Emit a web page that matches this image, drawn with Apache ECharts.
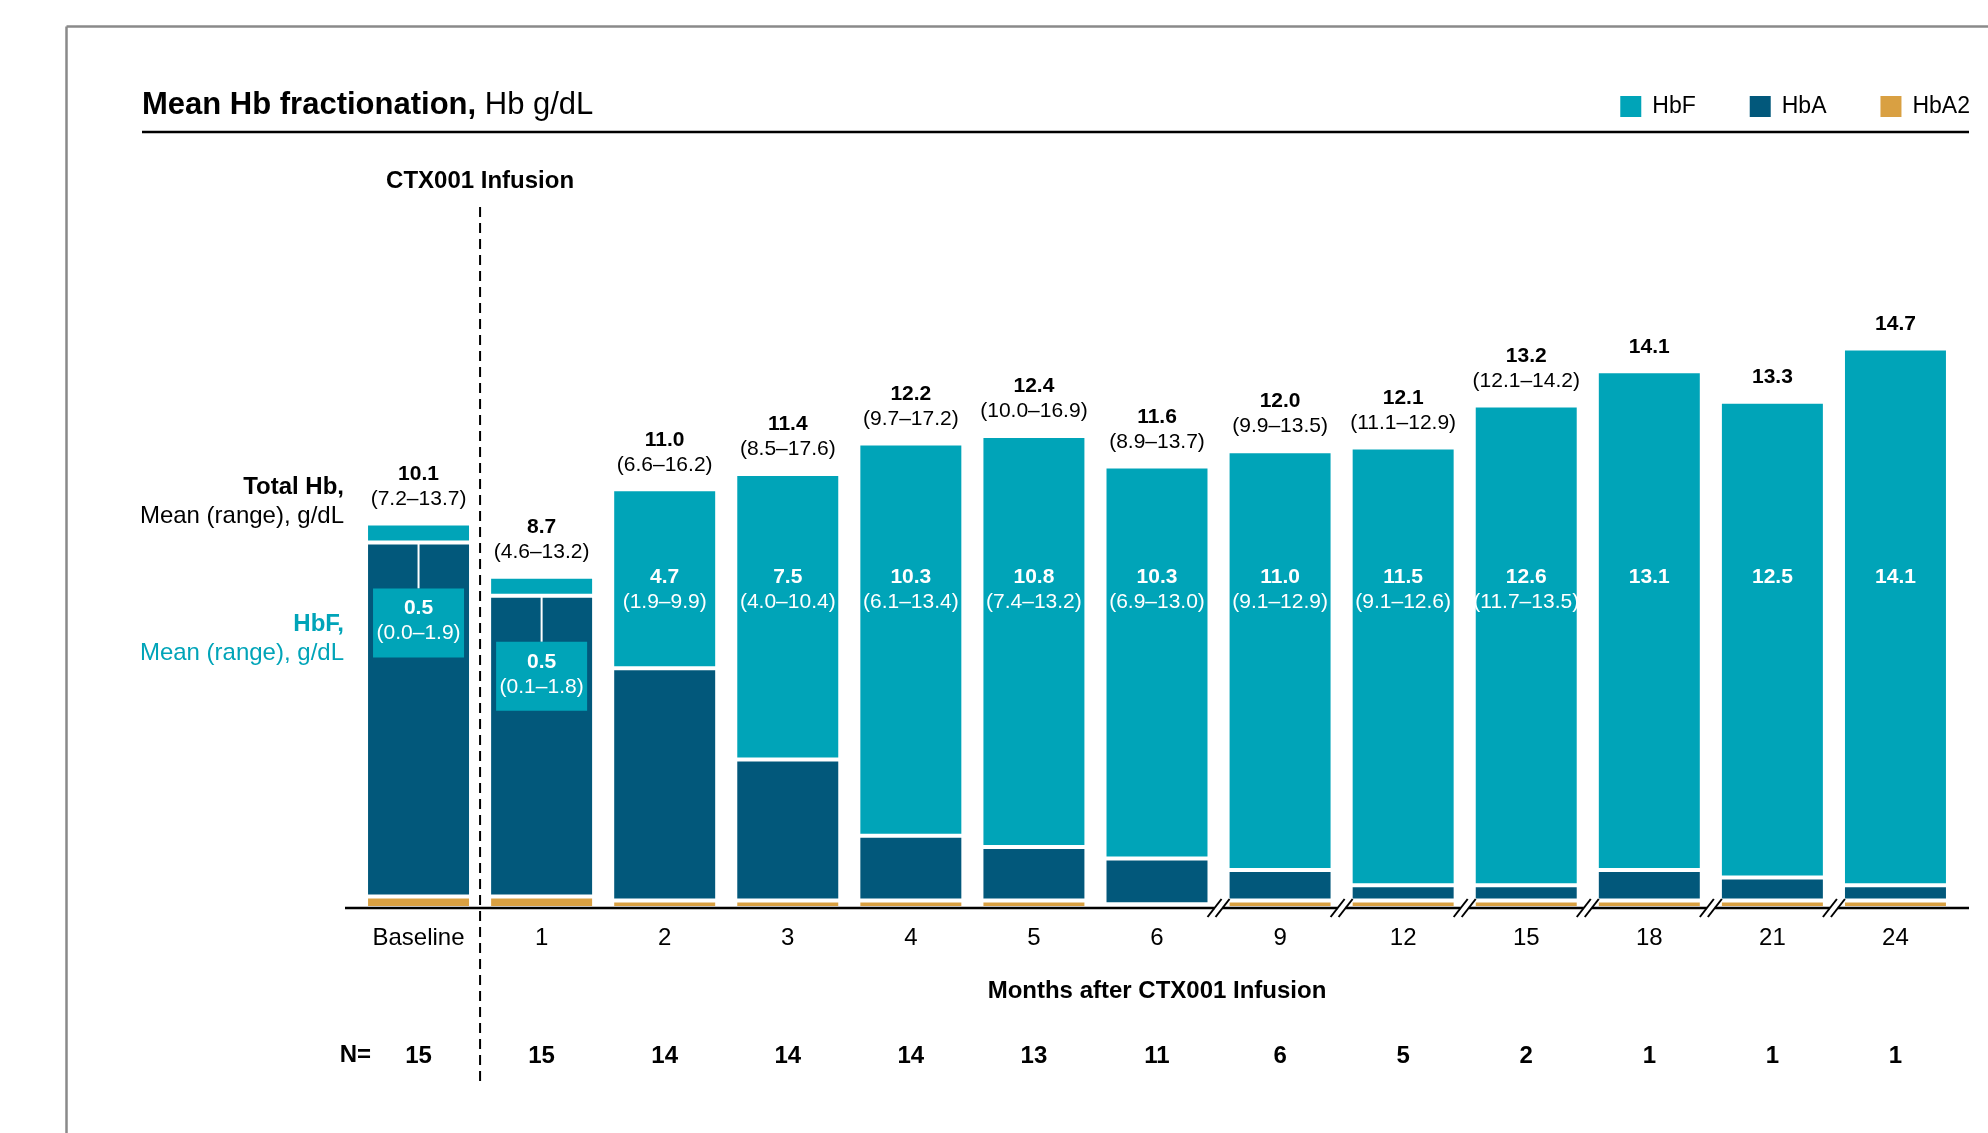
<!DOCTYPE html>
<html>
<head>
<meta charset="utf-8">
<title>Mean Hb fractionation</title>
<style>
  html, body { margin: 0; padding: 0; background: #fff; }
  #chart { width: 1988px; height: 1133px; }
</style>
<script src="https://cdn.jsdelivr.net/npm/echarts@6/dist/echarts.min.js"></script>
</head>
<body>
<div id="chart"></div>
<script>
// Visits: baseline, then months after infusion
const categories = ['Baseline', '1', '2', '3', '4', '5', '6', '9', '12', '15', '18', '21', '24'];
// Total Hb, mean and range (g/dL)
const totalHb = [10.1, 8.7, 11.0, 11.4, 12.2, 12.4, 11.6, 12.0, 12.1, 13.2, 14.1, 13.3, 14.7];
const totalRange = ['7.2–13.7', '4.6–13.2', '6.6–16.2', '8.5–17.6', '9.7–17.2', '10.0–16.9', '8.9–13.7',
  '9.9–13.5', '11.1–12.9', '12.1–14.2', '', '', ''];
// Hb fractions (g/dL)
const hbF = [0.5, 0.5, 4.7, 7.5, 10.3, 10.8, 10.3, 11.0, 11.5, 12.6, 13.1, 12.5, 14.1];
const hbFRange = ['0.0–1.9', '0.1–1.8', '1.9–9.9', '4.0–10.4', '6.1–13.4', '7.4–13.2', '6.9–13.0',
  '9.1–12.9', '9.1–12.6', '11.7–13.5', '', '', ''];
const hbA = [9.3, 7.9, 6.1, 3.7, 1.7, 1.4, 1.2, 0.8, 0.4, 0.4, 0.8, 0.6, 0.4];
const hbA2 = [0.3, 0.3, 0.2, 0.2, 0.2, 0.2, 0.1, 0.2, 0.2, 0.2, 0.2, 0.2, 0.2];
// Patients contributing at each visit
const nPatients = [15, 15, 14, 14, 14, 13, 11, 6, 5, 2, 1, 1, 1];
// The time axis is broken after each of these visits
const breakAfter = ['6', '9', '12', '15', '18', '21'];

const TEAL = '#00A4B8';
const NAVY = '#02587B';
const GOLD = '#D9A042';
const FONT = '"Liberation Sans", Arial, Helvetica, sans-serif';

const GRID = { left: 357, top: 337, width: 1600, height: 571 };
const AXIS_Y = GRID.top + GRID.height;
const INNER_Y = 577;          // row of the HbF values written inside the bars

const chart = echarts.init(document.getElementById('chart'), null, { renderer: 'canvas' });

function whiteText(x, y, text, bold) {
  return {
    type: 'text',
    style: {
      x: x, y: y, text: text, fill: '#fff',
      font: (bold ? 'bold ' : '') + '21px ' + FONT,
      align: 'center', verticalAlign: 'middle'
    }
  };
}

function renderHbFLabel(params, api) {
  const i = params.dataIndex;
  const x = api.coord([i, 0])[0];
  const value = hbF[i].toFixed(1);
  const range = hbFRange[i];
  const children = [];
  if (hbF[i] < 2) {
    // thin HbF segment: its value goes in a box below, joined by a leader line
    const segBottom = api.coord([i, hbA2[i] + hbA[i]])[1];
    const boxTop = segBottom + 46;
    children.push({
      type: 'line',
      shape: { x1: x, y1: segBottom, x2: x, y2: boxTop },
      style: { stroke: '#fff', lineWidth: 2 }
    });
    children.push({
      type: 'rect',
      shape: { x: x - 45.5, y: boxTop, width: 91, height: 69 },
      style: { fill: TEAL }
    });
    children.push(whiteText(x, boxTop + 20, value, true));
    children.push(whiteText(x, boxTop + 45, '(' + range + ')', false));
  } else {
    children.push(whiteText(x, INNER_Y, value, true));
    if (range) children.push(whiteText(x, INNER_Y + 25, '(' + range + ')', false));
  }
  return { type: 'group', children: children };
}

const barCommon = {
  type: 'bar',
  stack: 'hb',
  barCategoryGap: '14.7%',
  itemStyle: { borderColor: '#fff', borderWidth: 2 },
  emphasis: { disabled: true },
  animation: false
};

chart.setOption({
  animation: false,
  backgroundColor: '#fff',
  textStyle: { fontFamily: FONT },
  title: {
    left: 142,
    top: 90,
    padding: 0,
    text: '{b|Mean Hb fractionation,}{r| Hb g/dL}',
    textStyle: {
      rich: {
        b: { fontFamily: FONT, fontSize: 31, fontWeight: 'bold', color: '#000', lineHeight: 31 },
        r: { fontFamily: FONT, fontSize: 31, fontWeight: 'normal', color: '#000', lineHeight: 31 }
      }
    }
  },
  legend: {
    data: ['HbF', 'HbA', 'HbA2'],
    right: 18,
    top: 94,
    padding: 0,
    icon: 'rect',
    itemWidth: 23,
    itemHeight: 23,
    itemGap: 52,
    selectedMode: false,
    textStyle: { fontFamily: FONT, fontSize: 23, color: '#000', lineHeight: 23, padding: [0, 0, 0, 5] }
  },
  grid: GRID,
  xAxis: [
    {
      type: 'category',
      data: categories,
      axisLine: { show: false, onZero: false },
      axisTick: { show: false },
      axisLabel: { fontFamily: FONT, fontSize: 24, color: '#000', margin: 18 },
      name: 'Months after CTX001 Infusion',
      nameLocation: 'middle',
      nameGap: 71,
      nameTextStyle: { fontFamily: FONT, fontSize: 24, fontWeight: 'bold', color: '#000' }
    },
    {
      type: 'category',
      position: 'bottom',
      offset: 0,
      data: nPatients.map(String),
      axisLine: { show: false, onZero: false },
      axisTick: { show: false },
      axisLabel: { fontFamily: FONT, fontSize: 24, fontWeight: 'bold', color: '#000', margin: 136 }
    }
  ],
  yAxis: { type: 'value', min: 0, max: 15, show: false },
  series: [
    Object.assign({}, barCommon, { name: 'HbA2', data: hbA2, itemStyle: Object.assign({}, barCommon.itemStyle, { color: GOLD }) }),
    Object.assign({}, barCommon, { name: 'HbA', data: hbA, itemStyle: Object.assign({}, barCommon.itemStyle, { color: NAVY }) }),
    Object.assign({}, barCommon, {
      name: 'HbF',
      data: hbF,
      itemStyle: Object.assign({}, barCommon.itemStyle, { color: TEAL }),
      label: {
        show: true,
        position: 'top',
        distance: 12,
        formatter: function (p) {
          const i = p.dataIndex;
          const top = '{b|' + totalHb[i].toFixed(1) + '}';
          return totalRange[i] ? top + '\n{r|(' + totalRange[i] + ')}' : top;
        },
        rich: {
          b: { fontFamily: FONT, fontSize: 21, fontWeight: 'bold', color: '#000', lineHeight: 25 },
          r: { fontFamily: FONT, fontSize: 21, color: '#000', lineHeight: 25 }
        }
      }
    }),
    {
      name: 'HbF values',
      type: 'custom',
      data: hbF.map(function (v, i) { return [i, v]; }),
      encode: { x: 0, y: 1 },
      renderItem: renderHbFLabel,
      clip: false,
      z: 5,
      silent: true,
      animation: false
    }
  ]
});

// Frame, rules, infusion marker, axis line with breaks, row captions
function drawDecorations() {
  const px = function (i) { return chart.convertToPixel({ xAxisIndex: 0 }, i); };
  const step = px(1) - px(0);
  const gridRight = GRID.left + GRID.width;
  const infusionX = (px(0) + px(1)) / 2;
  const elements = [];

  // outer frame
  elements.push({ type: 'line', shape: { x1: 66.5, y1: 26.5, x2: 1988, y2: 26.5 }, style: { stroke: '#8a8a8a', lineWidth: 2.5 }, silent: true });
  elements.push({ type: 'line', shape: { x1: 66.5, y1: 26.5, x2: 66.5, y2: 1133 }, style: { stroke: '#8a8a8a', lineWidth: 2.5 }, silent: true });

  // rule under the heading
  elements.push({ type: 'line', shape: { x1: 142, y1: 132, x2: 1969, y2: 132 }, style: { stroke: '#000', lineWidth: 2.5 }, silent: true });

  // category axis line
  elements.push({ type: 'line', shape: { x1: GRID.left - 12, y1: AXIS_Y, x2: gridRight + 12, y2: AXIS_Y }, style: { stroke: '#000', lineWidth: 2.5 }, z: 10, silent: true });

  // axis breaks between the later visits
  breakAfter.forEach(function (cat) {
    const i = categories.indexOf(cat);
    const cx = px(i) + step / 2;
    elements.push({ type: 'rect', shape: { x: cx - 4, y: AXIS_Y - 3, width: 8, height: 6 }, style: { fill: '#fff' }, z: 11, silent: true });
    [-4, 4].forEach(function (dx) {
      elements.push({
        type: 'line',
        shape: { x1: cx + dx - 7, y1: AXIS_Y + 9, x2: cx + dx + 7, y2: AXIS_Y - 9 },
        style: { stroke: '#000', lineWidth: 2 },
        z: 12, silent: true
      });
    });
  });

  // infusion marker
  elements.push({ type: 'line', shape: { x1: infusionX, y1: 207, x2: infusionX, y2: 1084 }, style: { stroke: '#000', lineWidth: 2, lineDash: [10, 6] }, z: 12, silent: true });
  elements.push({ type: 'text', style: { x: infusionX, y: 181, text: 'CTX001 Infusion', font: 'bold 24px ' + FONT, fill: '#000', align: 'center', verticalAlign: 'middle' }, silent: true });

  // row captions on the left
  const captions = [
    { y: 487, text: 'Total Hb,', bold: true, color: '#000' },
    { y: 516, text: 'Mean (range), g/dL', bold: false, color: '#000' },
    { y: 624, text: 'HbF,', bold: true, color: TEAL },
    { y: 653, text: 'Mean (range), g/dL', bold: false, color: TEAL }
  ];
  captions.forEach(function (c) {
    elements.push({ type: 'text', style: { x: 344, y: c.y, text: c.text, font: (c.bold ? 'bold ' : '') + '24px ' + FONT, fill: c.color, align: 'right', verticalAlign: 'middle' }, silent: true });
  });
  elements.push({ type: 'text', style: { x: 371, y: 1055, text: 'N=', font: 'bold 24px ' + FONT, fill: '#000', align: 'right', verticalAlign: 'middle' }, silent: true });

  chart.setOption({ graphic: { elements: elements } });
}
drawDecorations();
</script>
</body>
</html>
